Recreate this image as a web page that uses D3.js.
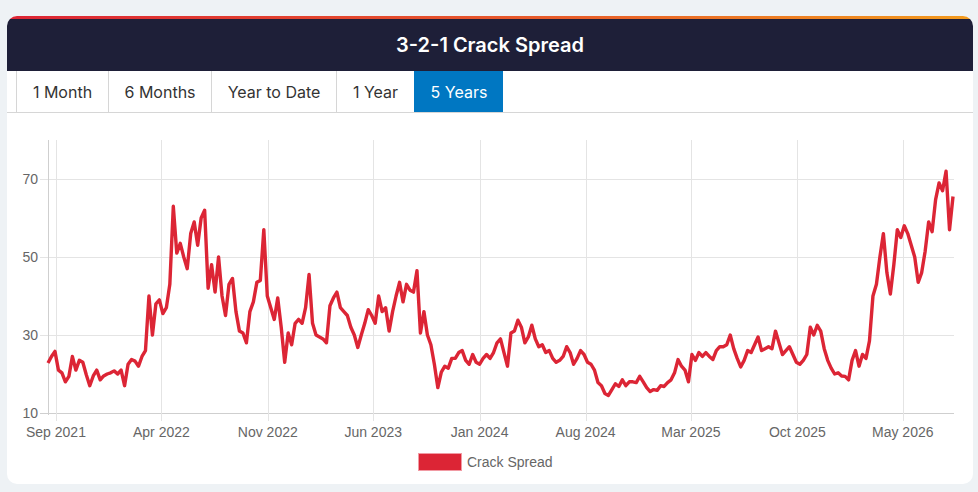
<!DOCTYPE html>
<html>
<head>
<meta charset="utf-8">
<script src="https://cdn.jsdelivr.net/npm/d3@7"></script>
<style>
    body { margin: 0; background: #eef2f5; font-family: Inter, "Noto Sans", sans-serif; }
    .card { position: absolute; left: 7px; top: 16px; width: 966px; height: 468px; background: #fff; border-radius: 10px; overflow: hidden; }
    .bar { height: 3px; background: linear-gradient(90deg, #dc2535, #e8602a 60%, #f29b1e); }
    .head { height: 52px; background: #1e1f38; color: #fff; font-weight: 600; font-size: 20px; text-align: center; line-height: 52px; }
    .tabs { display: flex; height: 41px; border-bottom: 1px solid #d6d6d6; padding-left: 9px; }
    .tab { border-left: 1px solid #d6d6d6; text-align: center; line-height: 42px; font-size: 16px; color: #333; box-sizing: border-box; }
    .tab.active { background: #0077c2; color: #fff; border-left-color: #0077c2; }
    svg { position: absolute; left: 0; top: 0; }
</style>
</head>
<body>
<div class="card">
    <div class="bar"></div>
    <div class="head">3-2-1 Crack Spread</div>
    <div class="tabs" id="tabs"></div>
</div>
<svg id="chart" width="978" height="492"></svg>
<script>
// tabs above the chart
const tabNames = ["1 Month", "6 Months", "Year to Date", "1 Year", "5 Years"];
const tabWidths = [92, 103, 125, 78, 89];
const activeTab = "5 Years";

// weekly values, first week starts 2021-08-16
const startDate = "2021-08-16";
const spread2021 = [22.8, 24.5, 25.8, 21, 20.3, 18, 19.4, 24.5, 21, 23.5, 23, 19.8, 17, 19.5, 21, 18.5, 19.5, 20, 20.3, 20.8];
const spread2022 = [20, 21, 17, 22.5, 23.7, 23.3, 22, 24.5, 26, 40, 30, 38, 39, 35.5, 37, 43, 63, 51, 53.5, 50,
    47, 56, 59, 53, 60, 62, 42, 48, 41, 50, 40, 35, 43, 44.5, 36, 31, 30.5, 28, 36, 38.5,
    43.5, 44, 57, 40, 37, 34, 39.5, 32, 23, 30.5, 27.5, 33];
const spread2023 = [34, 33, 37, 45.5, 33, 30, 29.5, 29, 28, 37.5, 39.5, 41, 37, 36, 35, 32, 30, 26.8, 30, 33,
    36.5, 35, 33, 40, 36, 37, 31, 36, 40, 43.5, 38.5, 43, 41.5, 41, 46.5, 30.5, 36, 30, 27.5, 22.5,
    16.5, 20.5, 22, 21.5, 24, 24, 25.5, 26, 23.5, 22.5, 25, 23];
const spread2024 = [22.5, 24, 25, 24, 25.5, 28, 29, 25.5, 22, 30.5, 31, 33.8, 32, 28, 29.5, 32.5, 29, 27, 27.5, 25.5,
    26, 24, 23, 23.5, 24.5, 27, 25.5, 22.5, 24, 26, 25, 23, 22.5, 21, 17.8, 17, 15, 14.5, 16, 17.5,
    16.8, 18.5, 17, 18, 18, 17.8, 19.4, 18, 16.5, 15.5, 16, 15.8];
const spread2025 = [17, 16.8, 17.8, 18.5, 20.3, 23.7, 22, 21, 18, 25, 23.5, 25.5, 24.5, 25.5, 24.5, 23.7, 26, 27, 27, 27.5,
    30, 26.5, 24, 21.8, 23.5, 26, 25.5, 27.5, 29.5, 26, 26.5, 27, 26.5, 31, 28, 25, 26, 27, 25, 23,
    22.5, 23.5, 25, 32, 30, 32.5, 31, 26.5, 23.5, 21.5, 20, 20.3];
const spread2026 = [19.5, 19.4, 18.5, 23.5, 26, 22, 25, 24, 28.5, 40, 43, 50, 56, 46, 40.5, 48, 57, 55, 58, 56,
    53, 50, 43.5, 46, 51.5, 59, 56.5, 64.7, 69, 67, 72, 57, 65.5];

const xTicks = ["2021-09-01", "2022-04-01", "2022-11-01", "2023-06-01", "2024-01-01", "2024-08-01", "2025-03-01", "2025-10-01", "2026-05-01"];
const yTicks = [10, 30, 50, 70];
const seriesName = "Crack Spread";

const lineColor = "#dc2535";
const tickFont = "14px 'Liberation Sans', Arial, sans-serif";

d3.select("#tabs").selectAll("div").data(tabNames).join("div")
    .attr("class", d => d === activeTab ? "tab active" : "tab")
    .style("width", (d, i) => tabWidths[i] + "px")
    .text(d => d);

const parse = d3.timeParse("%Y-%m-%d");
const values = [].concat(spread2021, spread2022, spread2023, spread2024, spread2025, spread2026);
const start = parse(startDate);
const data = values.map((v, i) => ({ date: d3.timeDay.offset(start, 7 * i), value: v }));

const plotLeft = 48, plotRight = 954, plotTop = 140, plotBottom = 413;
const svg = d3.select("#chart");

const x = d3.scaleTime()
    .domain([start, d3.timeDay.offset(data[data.length - 1].date, 2)])
    .range([plotLeft, plotRight]);
const y = d3.scaleLinear().domain([10, 80]).range([plotBottom, plotTop]);

// grid
svg.append("g").selectAll("line").data(yTicks).join("line")
    .attr("x1", plotLeft - 8).attr("x2", plotRight)
    .attr("y1", d => Math.round(y(d)) + 0.5).attr("y2", d => Math.round(y(d)) + 0.5)
    .attr("stroke", d => d === 10 ? "#cfcfcf" : "#e4e4e4");

svg.append("g").selectAll("line").data(xTicks.map(parse)).join("line")
    .attr("x1", d => Math.round(x(d)) + 0.5).attr("x2", d => Math.round(x(d)) + 0.5)
    .attr("y1", plotTop).attr("y2", plotBottom + 8)
    .attr("stroke", "#e4e4e4");

svg.append("line")
    .attr("x1", plotLeft + 0.5).attr("x2", plotLeft + 0.5)
    .attr("y1", plotTop).attr("y2", plotBottom + 2)
    .attr("stroke", "#cfcfcf");

// tick labels
svg.append("g").selectAll("text").data(yTicks).join("text")
    .attr("x", 38).attr("y", d => y(d)).attr("dy", "0.35em")
    .attr("text-anchor", "end")
    .style("font", tickFont).attr("fill", "#666")
    .text(d => d);

const fmt = d3.timeFormat("%b %Y");
svg.append("g").selectAll("text").data(xTicks.map(parse)).join("text")
    .attr("x", d => x(d)).attr("y", 437)
    .attr("text-anchor", "middle")
    .style("font", tickFont).attr("fill", "#666")
    .text(d => fmt(d));

// series line
const line = d3.line().x(d => x(d.date)).y(d => y(d.value));
svg.append("path").datum(data)
    .attr("d", line)
    .attr("fill", "none")
    .attr("stroke", lineColor)
    .attr("stroke-width", 3.4)
    .attr("stroke-linejoin", "round");

// legend
const legend = svg.append("g");
legend.append("rect")
    .attr("x", 418.5).attr("y", 453.5).attr("width", 43).attr("height", 17)
    .attr("fill", lineColor).attr("stroke", "#f19aa3").attr("stroke-width", 1);
legend.append("text")
    .attr("x", 467).attr("y", 467)
    .style("font", tickFont).attr("fill", "#666")
    .text(seriesName);
</script>
</body>
</html>
